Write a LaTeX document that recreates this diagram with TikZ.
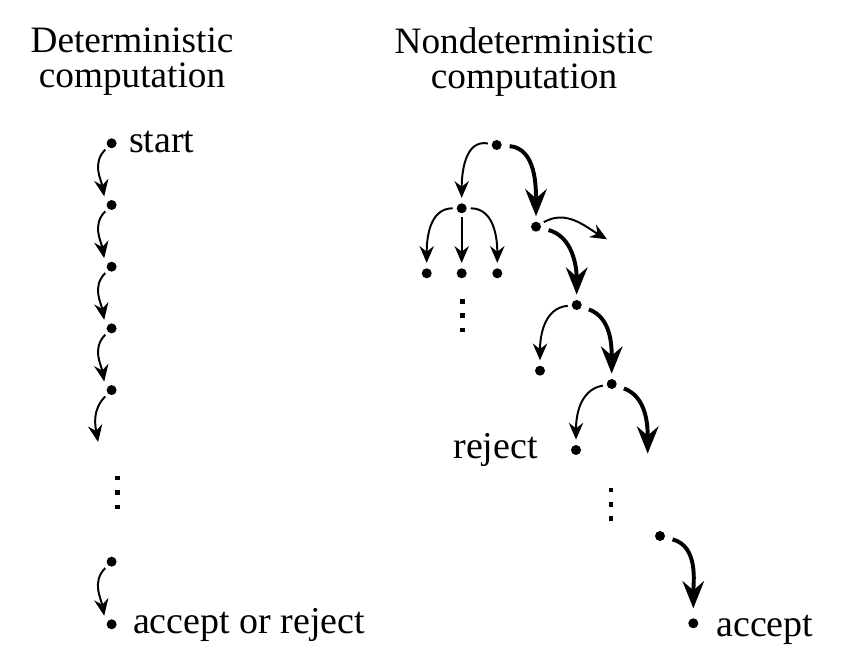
\documentclass[tikz,border=0pt]{standalone}
\usepackage{fontspec}
\setmainfont{Liberation Serif}
\usetikzlibrary{arrows.meta}

\begin{document}
\begin{tikzpicture}[
    etat/.style={circle, fill=black, minimum size=2.5mm, inner sep=0pt, outer sep=1mm},
    point/.style={rectangle, fill=black, minimum size=1.15mm, inner sep=0pt},
    fleche/.style={-{Stealth[length=4.2mm, width=3.6mm, inset=1.4mm]}, line width=1.4pt, shorten >=1pt},
    branche/.style={-{Stealth[length=6.8mm, width=5.4mm, inset=2.3mm]}, line width=2.8pt, shorten <=1mm, shorten >=1pt},
    titre/.style={font=\fontsize{26.5}{25}\selectfont, align=center},
    libelle/.style={font=\fontsize{27}{32}\selectfont, inner sep=0pt}
  ]
    \useasboundingbox (0,0) rectangle (21.25,16.65);

    % Titres
    \node[titre] (titredet) at (3.3,15.1) {Deterministic\\computation};
    \node[titre] (titrendet) at (13.1,15.1) {Nondeterministic\\computation};

    % Calcul deterministe
    \foreach \i in {0,...,4}
      \node[etat] (det\i) at (2.79,13.0675-1.5425*\i) {};
    \coordinate (det5) at (2.4575,5.5675);
    \node[etat] (det6) at (2.79,2.6075) {};
    \node[etat] (det7) at (2.79,1.0425) {};
    \foreach \i [count=\j from 1] in {0,...,3}
      \draw[fleche, shorten >=2pt] (det\i.225) to[out=225,in=100] (det\j.140);
    \draw[fleche] (det4.225) to[out=225,in=100] (det5);
    \draw[fleche, shorten >=2pt] (det6.225) to[out=225,in=100] (det7.140);
    \coordinate (suitedet) at (2.9425,4.3375);
    \foreach \dy in {-0.36,0,0.36}
      \node[point] at ([yshift=\dy cm]suitedet) {};
    \node[libelle, anchor=base west] (depart) at ([xshift=4.3mm,yshift=-2.3mm]det0.center) {start};
    \node[libelle, anchor=base west] (issue) at ([xshift=5.3mm,yshift=-2.2mm]det7.center) {accept or reject};

    % Calcul non deterministe
    \node[etat] (nr) at (12.4175,13.025) {};
    \node[etat] (na) at (11.5425,11.4425) {};
    \node[etat] (nb) at (13.4,10.9825) {};
    \node[etat] (na1) at (10.6675,9.8175) {};
    \node[etat] (na2) at (11.5425,9.8175) {};
    \node[etat] (na3) at (12.4325,9.8175) {};
    \coordinate (nb1) at (15.2075,10.65);
    \node[etat] (nc) at (14.4175,9.025) {};
    \node[etat] (nc1) at (13.5,7.3825) {};
    \node[etat] (nd) at (15.2925,7.05) {};
    \node[etat] (nd1) at (14.4,5.4) {};
    \coordinate (nd2) at (16.1925,5.275);
    \node[etat] (ne) at (16.5,3.25) {};
    \node[etat] (nf) at (17.3325,1.0675) {};

    \draw[fleche] (nr) to[out=170,in=90] (na);
    \draw[branche] (nr) to[out=-5,in=90] (nb);
    \draw[fleche] (na) to[out=180,in=90] (na1);
    \draw[fleche] (na) -- (na2);
    \draw[fleche] (na) to[out=0,in=90] (na3);
    \draw[fleche] (nb) to[out=30,in=150] (nb1);
    \draw[branche] (nb) to[out=-15,in=90] (nc);
    \draw[fleche] (nc) to[out=185,in=90] (nc1);
    \draw[branche] (nc) to[out=-20,in=90] (nd);
    \draw[fleche] (nd) to[out=190,in=90] (nd1);
    \draw[branche] (nd) to[out=-20,in=90] (nd2);
    \draw[branche, shorten >=1.5mm] (ne) to[out=-15,in=90] (nf);

    \coordinate (suitenga) at (11.5675,8.7575);
    \foreach \dy in {-0.36,0,0.36}
      \node[point] at ([yshift=\dy cm]suitenga) {};
    \coordinate (suitendr) at (15.275,4.045);
    \foreach \dy in {-0.36,0,0.36}
      \node[point] at ([yshift=\dy cm]suitendr) {};

    \node[libelle, anchor=base east] (rejet) at ([xshift=-9.5mm,yshift=-2mm]nd1.center) {reject};
    \node[libelle, anchor=base west] (accepte) at ([xshift=5.7mm,yshift=-3.2mm]nf.center) {accept};
\end{tikzpicture}
\end{document}
